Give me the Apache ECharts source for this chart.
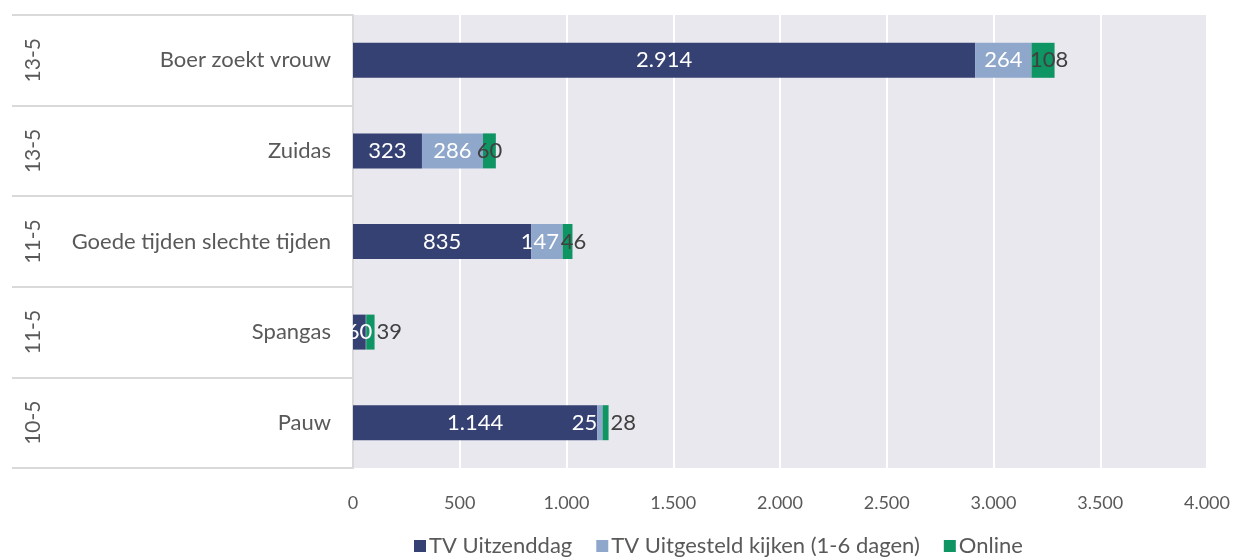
<!DOCTYPE html>
<html>
<head>
<meta charset="utf-8">
<script src="https://cdn.jsdelivr.net/npm/echarts@6/dist/echarts.min.js"></script>
<style>html,body{margin:0;padding:0;background:#fff;}#c{width:1238px;height:560px;}</style>
</head>
<body>
<div id="c"></div>
<script>
var programmes = ['Boer zoekt vrouw', 'Zuidas', 'Goede tijden slechte tijden', 'Spangas', 'Pauw'];
var dates = ['13-5', '13-5', '11-5', '11-5', '10-5'];
var tvUitzenddag = [2914, 323, 835, 60, 1144];
var tvUitgesteld = [264, 286, 147, 2, 25];
var online = [108, 60, 46, 39, 28];
var xTicks = { min: 0, max: 4000, interval: 500 };

function fmt(v) {
  return String(Math.round(v)).replace(/\B(?=(\d{3})+(?!\d))/g, '.');
}
var FONT = 'Lato';
var chart = echarts.init(document.getElementById('c'));

var uitgData = tvUitgesteld.map(function (v, i) {
  var d = { value: v };
  if (i === 3) d.label = { show: false };
  if (i === 2) d.label = { position: 'inside', offset: [-7, 0] };
  if (i === 4) d.label = { position: 'left', distance: 0 };
  return d;
});
var onlineData = online.map(function (v, i) {
  var d = { value: v };
  if (i === 0) d.label = { position: 'inside', offset: [6, 0] };
  if (i === 2) d.label = { position: 'inside', offset: [6, 0] };
  if (i === 3) d.label = { position: 'right', distance: 2 };
  if (i === 4) d.label = { position: 'right', distance: 2 };
  return d;
});

chart.setOption({
  backgroundColor: '#ffffff',
  animation: false,
  textStyle: { fontFamily: FONT },
  grid: { left: 353, right: 31, top: 15, bottom: 92, show: true, backgroundColor: '#E9E8EE', borderWidth: 0 },
  legend: {
    bottom: -2, left: 409,
    itemWidth: 12, itemHeight: 12, itemGap: 24,
    icon: 'rect',
    textStyle: { color: '#595959', fontSize: 22, fontFamily: FONT, padding: [0, 0, 0, -2] },
    data: ['TV Uitzenddag', 'TV Uitgesteld kijken (1-6 dagen)', 'Online']
  },
  xAxis: {
    type: 'value', min: xTicks.min, max: xTicks.max, interval: xTicks.interval,
    axisLine: { show: false }, axisTick: { show: false },
    splitLine: { show: true, lineStyle: { color: '#ffffff', width: 2 } },
    axisLabel: { color: '#595959', fontSize: 18, fontFamily: FONT, margin: 26, formatter: fmt }
  },
  yAxis: [{
    type: 'category', inverse: true, data: programmes,
    axisLine: { show: true, lineStyle: { color: '#D9D9D9', width: 2 } },
    axisTick: { show: true, length: 341, lineStyle: { color: '#D9D9D9', width: 2 } },
    axisLabel: { color: '#595959', fontSize: 22, fontFamily: FONT, margin: 22 }
  }, {
    type: 'category', inverse: true, data: dates, position: 'left',
    axisLine: { show: false }, axisTick: { show: false },
    axisLabel: { color: '#595959', fontSize: 21, fontFamily: FONT, rotate: 90, margin: 309 }
  }],
  series: [{
    name: 'TV Uitzenddag', type: 'bar', stack: 'a', barWidth: 35,
    itemStyle: { color: '#354172' },
    label: { show: true, position: 'inside', color: '#ffffff', fontSize: 22, fontFamily: FONT, formatter: function (p) { return fmt(p.value); } },
    data: tvUitzenddag
  }, {
    name: 'TV Uitgesteld kijken (1-6 dagen)', type: 'bar', stack: 'a', barWidth: 35,
    itemStyle: { color: '#8EA7CB' },
    label: { show: true, position: 'inside', color: '#ffffff', fontSize: 22, fontFamily: FONT, formatter: function (p) { return fmt(p.value); } },
    data: uitgData
  }, {
    name: 'Online', type: 'bar', stack: 'a', barWidth: 35,
    itemStyle: { color: '#0F9463' },
    label: { show: true, position: 'inside', color: '#404040', fontSize: 22, fontFamily: FONT, formatter: function (p) { return fmt(p.value); } },
    data: onlineData
  }]
});
</script>
</body>
</html>
